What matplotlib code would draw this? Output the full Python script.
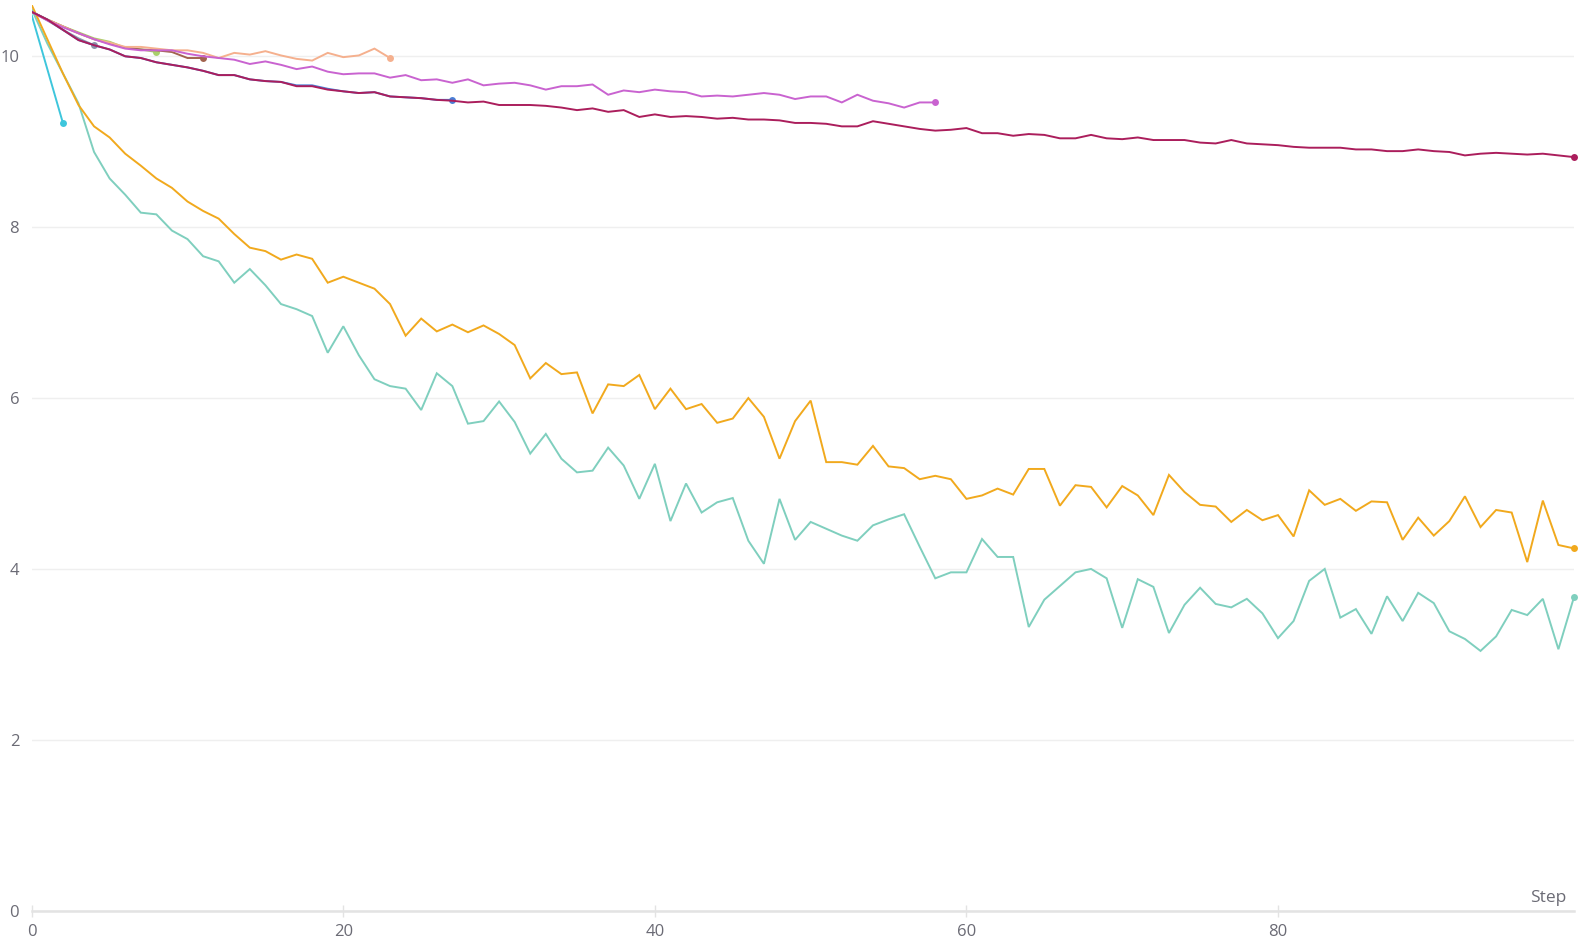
import matplotlib
matplotlib.use("Agg")
import matplotlib.pyplot as plt

plt.rcParams['font.family'] = ['Open Sans', 'DejaVu Sans']

teal = [10.55, 10.15, 9.8, 9.45, 8.88, 8.57, 8.38, 8.17, 8.15, 7.96,
        7.86, 7.66, 7.60, 7.35, 7.51, 7.32, 7.10, 7.04, 6.96, 6.53,
        6.84, 6.50, 6.22, 6.14, 6.11, 5.86, 6.29, 6.14, 5.70, 5.73,
        5.96, 5.72, 5.35, 5.58, 5.29, 5.13, 5.15, 5.42, 5.21, 4.82,
        5.23, 4.56, 5.00, 4.66, 4.78, 4.83, 4.33, 4.06, 4.82, 4.34,
        4.55, 4.47, 4.39, 4.33, 4.51, 4.58, 4.64, 4.26, 3.89, 3.96,
        3.96, 4.35, 4.14, 4.14, 3.32, 3.64, 3.80, 3.96, 4.00, 3.89,
        3.31, 3.88, 3.79, 3.25, 3.58, 3.78, 3.59, 3.55, 3.65, 3.48,
        3.19, 3.39, 3.86, 4.00, 3.43, 3.53, 3.24, 3.68, 3.39, 3.72,
        3.60, 3.27, 3.18, 3.04, 3.21, 3.52, 3.46, 3.65, 3.06, 3.67]

orange = [10.6, 10.2, 9.8, 9.43, 9.18, 9.05, 8.86, 8.72, 8.57, 8.46,
          8.30, 8.19, 8.10, 7.92, 7.76, 7.72, 7.62, 7.68, 7.63, 7.35,
          7.42, 7.35, 7.28, 7.10, 6.73, 6.93, 6.78, 6.86, 6.77, 6.85,
          6.75, 6.62, 6.23, 6.41, 6.28, 6.30, 5.82, 6.16, 6.14, 6.27,
          5.87, 6.11, 5.87, 5.93, 5.71, 5.76, 6.00, 5.78, 5.29, 5.73,
          5.97, 5.25, 5.25, 5.22, 5.44, 5.20, 5.18, 5.05, 5.09, 5.05,
          4.82, 4.86, 4.94, 4.87, 5.17, 5.17, 4.74, 4.98, 4.96, 4.72,
          4.97, 4.86, 4.63, 5.10, 4.90, 4.75, 4.73, 4.55, 4.69, 4.57,
          4.63, 4.38, 4.92, 4.75, 4.82, 4.68, 4.79, 4.78, 4.34, 4.60,
          4.39, 4.56, 4.85, 4.49, 4.69, 4.66, 4.08, 4.80, 4.28, 4.24]

crimson = [10.52, 10.43, 10.31, 10.19, 10.13, 10.08, 10.00, 9.98, 9.93, 9.90,
           9.87, 9.83, 9.78, 9.78, 9.73, 9.71, 9.70, 9.65, 9.65, 9.61,
           9.59, 9.57, 9.58, 9.53, 9.52, 9.51, 9.49, 9.48, 9.46, 9.47,
           9.43, 9.43, 9.43, 9.42, 9.40, 9.37, 9.39, 9.35, 9.37, 9.29,
           9.32, 9.29, 9.30, 9.29, 9.27, 9.28, 9.26, 9.26, 9.25, 9.22,
           9.22, 9.21, 9.18, 9.18, 9.24, 9.21, 9.18, 9.15, 9.13, 9.14,
           9.16, 9.10, 9.10, 9.07, 9.09, 9.08, 9.04, 9.04, 9.08, 9.04,
           9.03, 9.05, 9.02, 9.02, 9.02, 8.99, 8.98, 9.02, 8.98, 8.97,
           8.96, 8.94, 8.93, 8.93, 8.93, 8.91, 8.91, 8.89, 8.89, 8.91,
           8.89, 8.88, 8.84, 8.86, 8.87, 8.86, 8.85, 8.86, 8.84, 8.82]

blue = [10.52, 10.43, 10.31, 10.19, 10.13, 10.08, 10.00, 9.98, 9.93, 9.90,
        9.87, 9.83, 9.78, 9.78, 9.73, 9.71, 9.70, 9.66, 9.66, 9.62,
        9.59, 9.57, 9.58, 9.53, 9.52, 9.51, 9.49, 9.49]

violet = [10.52, 10.42, 10.34, 10.27, 10.20, 10.14, 10.09, 10.07, 10.07, 10.07,
          10.03, 10.00, 9.98, 9.96, 9.91, 9.94, 9.90, 9.85, 9.88, 9.82,
          9.79, 9.80, 9.80, 9.75, 9.78, 9.72, 9.73, 9.69, 9.73, 9.66,
          9.68, 9.69, 9.66, 9.61, 9.65, 9.65, 9.67, 9.55, 9.60, 9.58,
          9.61, 9.59, 9.58, 9.53, 9.54, 9.53, 9.55, 9.57, 9.55, 9.50,
          9.53, 9.53, 9.46, 9.55, 9.48, 9.45, 9.40, 9.46, 9.46]

peach = [10.52, 10.43, 10.35, 10.27, 10.20, 10.16, 10.11, 10.11, 10.09, 10.07,
         10.07, 10.04, 9.98, 10.04, 10.02, 10.06, 10.01, 9.97, 9.95, 10.04,
         9.99, 10.01, 10.09, 9.98]

green = [10.52, 10.43, 10.35, 10.28, 10.21, 10.17, 10.10, 10.08, 10.05]
brown = [10.52, 10.43, 10.35, 10.27, 10.20, 10.15, 10.10, 10.08, 10.07, 10.05, 9.98, 9.98]
grey = [10.52, 10.42, 10.31, 10.21, 10.13]
cyan = [10.48, 9.85, 9.22]

series = [
    (grey, '#8a93a8'),
    (green, '#a9d06a'),
    (brown, '#a2634e'),
    (peach, '#f5b08e'),
    (cyan, '#3ec6dc'),
    (teal, '#7fcfbe'),
    (orange, '#f1a91d'),
    (blue, '#4a7fd6'),
    (violet, '#c963d0'),
    (crimson, '#ab1e5c'),
]

fig = plt.figure(figsize=(15.87, 9.5), dpi=100)
ax = fig.add_axes([0.02, 0.0414, 0.9718, 0.9533])

for vals, col in series:
    xs = list(range(len(vals)))
    ax.plot(xs, vals, color=col, lw=1.4, solid_joinstyle='miter')
    ax.plot(xs[-1], vals[-1], 'o', color=col, ms=5, mec='none', clip_on=False)

ax.set_xlim(0, 99)
ax.set_ylim(0, 10.6)
ax.set_yticks([0, 2, 4, 6, 8, 10])
ax.set_xticks([0, 20, 40, 60, 80])
ax.grid(axis='y', color='#efefef', lw=1)
ax.set_axisbelow(True)
for s in ['top', 'right', 'left']:
    ax.spines[s].set_visible(False)
ax.spines['bottom'].set_color('#e3e3e3')
ax.spines['bottom'].set_linewidth(1.8)
ax.tick_params(axis='y', length=0, pad=9, labelsize=12, labelcolor='#6b6b75')
ax.tick_params(axis='x', direction='inout', length=9, width=1, color='#e3e3e3',
               pad=5, labelsize=12, labelcolor='#6b6b75')
ax.text(0.995, 0.005, 'Step', transform=ax.transAxes, ha='right', va='bottom',
        fontsize=12.5, color='#6b6b75')

fig.savefig('out.png', dpi=100)
